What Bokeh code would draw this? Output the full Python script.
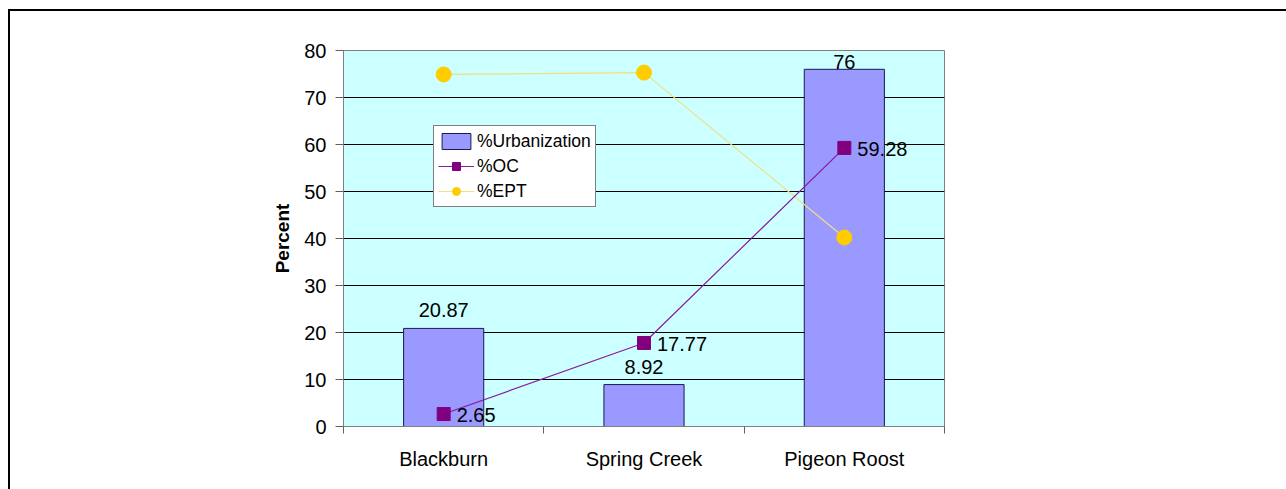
from bokeh.plotting import figure
from bokeh.layouts import column
from bokeh.models import (ColumnDataSource, FixedTicker, Range1d, Legend, LegendItem)
from bokeh.core.properties import value
from bokeh.embed import file_html
from bokeh.resources import INLINE

# Site data
sites = ["Blackburn", "Spring Creek", "Pigeon Roost"]
urbanization = [20.87, 8.92, 76]
oc = [2.65, 17.77, 59.28]
ept = [74.9, 75.3, 40.2]
y_ticks = [0, 10, 20, 30, 40, 50, 60, 70, 80]

FONT = "Liberation Sans"
Y_MAX = 80

xs = [i + 0.5 for i in range(len(sites))]
# bar value labels float above the bar, tucked closer when the bar nearly reaches the top
urb_offsets = [-7 if v > Y_MAX - 6 else -18 for v in urbanization]
src = ColumnDataSource(dict(
    x=xs, site=sites, urb=urbanization, oc=oc, ept=ept,
    urb_lbl=[f"{v:g}" for v in urbanization],
    urb_off=urb_offsets,
    oc_lbl=[f"{v:g}" for v in oc],
))

p = figure(width=1276, height=478, output_backend="svg", toolbar_location=None,
           x_range=Range1d(0, len(sites)), y_range=Range1d(0, Y_MAX),
           min_border_left=333, min_border_right=342, min_border_top=39,
           min_border_bottom=63)

p.background_fill_color = "#CCFFFF"
p.border_fill_color = "white"
p.outline_line_color = "#808080"
p.outline_line_width = 1

# Horizontal gridlines only
p.xgrid.visible = False
p.ygrid.ticker = FixedTicker(ticks=y_ticks)
p.ygrid.grid_line_color = "#000000"
p.ygrid.grid_line_width = 1

# Y axis
p.yaxis.ticker = FixedTicker(ticks=y_ticks, minor_ticks=[])
p.yaxis.axis_label = "Percent"
p.yaxis.axis_label_text_font = FONT
p.yaxis.axis_label_text_font_style = "bold"
p.yaxis.axis_label_text_font_size = "19px"
p.yaxis.axis_label_text_color = "#000000"
p.yaxis.axis_label_standoff = 8
p.yaxis.major_label_text_font = FONT
p.yaxis.major_label_text_font_size = "20px"
p.yaxis.major_label_text_color = "#000000"
p.yaxis.major_label_standoff = 9
p.yaxis.axis_line_color = "#808080"
p.yaxis.major_tick_line_color = "#606060"
p.yaxis.major_tick_out = 8
p.yaxis.major_tick_in = 0

# X axis: category names centred, tick marks between categories
p.xaxis.ticker = FixedTicker(ticks=xs, minor_ticks=list(range(len(sites) + 1)))
p.xaxis.major_label_overrides = {x: s for x, s in zip(xs, sites)}
p.xaxis.major_label_text_font = FONT
p.xaxis.major_label_text_font_size = "20px"
p.xaxis.major_label_text_color = "#000000"
p.xaxis.major_label_standoff = 14
p.xaxis.major_tick_out = 0
p.xaxis.major_tick_in = 0
p.xaxis.minor_tick_out = 7
p.xaxis.minor_tick_in = 0
p.xaxis.minor_tick_line_color = "#606060"
p.xaxis.axis_line_color = "#808080"

# Bars
bars = p.vbar(x="x", top="urb", width=0.4, source=src,
              fill_color="#9999FF", line_color="#1a1a50", line_width=1)
p.text(x="x", y="urb", text="urb_lbl", source=src, text_align="center",
       text_baseline="middle", y_offset="urb_off", text_font=value(FONT),
       text_font_size="20px", text_color="#000000")

# %EPT line
ept_line = p.line(x="x", y="ept", source=src, line_color="#F2DF80", line_width=1.2)
ept_pts = p.scatter(x="x", y="ept", source=src, marker="circle", size=15,
                    fill_color="#FFCC00", line_color="#FFCC00")

# %OC line
oc_line = p.line(x="x", y="oc", source=src, line_color="#8B1A9B", line_width=1.2)
oc_pts = p.scatter(x="x", y="oc", source=src, marker="square", size=13,
                   fill_color="#800080", line_color="#800080")
p.text(x="x", y="oc", text="oc_lbl", source=src, text_align="left",
       text_baseline="middle", x_offset=13, y_offset=1, text_font=value(FONT),
       text_font_size="20px", text_color="#000000")

legend = Legend(items=[
    LegendItem(label="%Urbanization", renderers=[bars]),
    LegendItem(label="%OC", renderers=[oc_line, oc_pts]),
    LegendItem(label="%EPT", renderers=[ept_line, ept_pts]),
], location=(90, 219))
legend.label_text_font = FONT
legend.label_text_font_size = "17.5px"
legend.label_text_color = "#000000"
legend.background_fill_color = "white"
legend.background_fill_alpha = 1
legend.border_line_color = "#000000"
legend.border_line_width = 1
legend.padding = 4
legend.spacing = 3
legend.margin = 0
legend.glyph_width = 36
legend.glyph_height = 20
legend.label_height = 22
legend.label_standoff = 3
p.add_layout(legend, "center")

page = column(p, styles={"border-left": "2px solid #000000",
                         "border-top": "2px solid #000000",
                         "margin-left": "8px", "margin-top": "9px"})

with open("out.html", "w") as f:
    f.write(file_html(page, INLINE))
